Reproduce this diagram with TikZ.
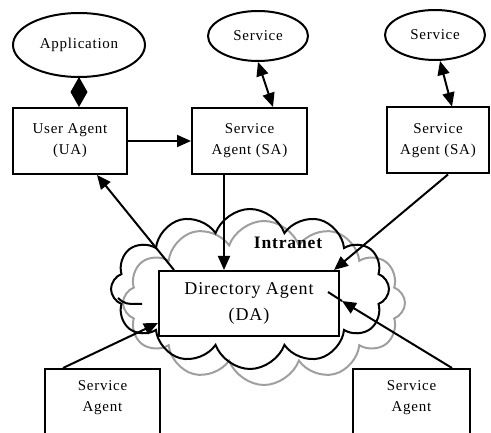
\documentclass[tikz,border=0pt]{standalone}
\usepackage{fontspec}
\setmainfont{Liberation Serif}[LetterSpace=5]
\usetikzlibrary{arrows.meta,shapes.geometric,shapes.symbols}
\begin{document}
\begin{tikzpicture}[x=1pt,y=-1pt,
  lw/.style={line width=2pt},
  box/.style={draw, lw, fill=white, rectangle, align=center, inner sep=0pt,
    font=\fontsize{15}{21}\selectfont},
  bbox/.style={box, anchor=north, inner ysep=12pt, text depth=40pt},
  ell/.style={draw, lw, ellipse, fill=white, inner sep=0pt,
    font=\fontsize{15}{16}\selectfont},
  arr/.style={lw, -{Triangle[length=14pt,width=12pt]}},
  darr/.style={lw, {Triangle[length=14pt,width=12pt]}-{Triangle[length=14pt,width=12pt]}},
  dia/.style={lw, -{Diamond[length=30pt,width=17pt]}},
  cloudb/.style={cloud, draw, cloud puffs=12, cloud puff arc=140, inner sep=0pt},
  curl/.style={line width=2pt},
]
\useasboundingbox (0,0) rectangle (491,433);
% clouds
\node[cloudb, gray!75, line width=2pt, minimum width=282pt, minimum height=164pt] (cg) at (264,303) {};
\node[cloudb, black, line width=2pt, minimum width=278pt, minimum height=160pt] (cb) at (250,289) {};
\draw[curl] (118,298) .. controls (125,304) .. (142,304);
\node[font=\bfseries\fontsize{17.5}{20}\selectfont] (intra) at (288,243) {Intranet};
% nodes
\node[ell, minimum width=132pt, minimum height=64pt] (app) at (79,45) {Application};
\node[ell, minimum width=100pt, minimum height=50pt] (svc1) at (258,36) {Service};
\node[ell, minimum width=100pt, minimum height=50pt] (svc2) at (435,35) {Service};
\node[box, minimum width=114pt, minimum height=66pt] (ua) at (70,141) {User Agent\\(UA)};
\node[box, minimum width=115pt, minimum height=66pt] (sa1) at (249.5,141) {Service\\Agent (SA)};
\node[box, minimum width=102pt, minimum height=66pt] (sa2) at (438,140.5) {Service\\Agent (SA)};
\node[box, minimum width=180pt, minimum height=65pt, font=\fontsize{18}{26}\selectfont] (da) at (249,303.5) {Directory Agent\\(DA)};
\node[bbox, minimum width=115pt] (sa3) at (102.5,368) {Service\\Agent};
\node[bbox, minimum width=117pt] (sa4) at (411.5,368) {Service\\Agent};
\coordinate (datip) at (342,301);
\coordinate (dain) at (328,292);
% connectors
\draw[dia] (app.south) -- (app.south |- ua.north);
\draw[darr] (svc1.south) -- ([xshift=23.5pt]sa1.north);
\draw[darr] ([xshift=5pt]svc2.south) -- ([xshift=14pt]sa2.north);
\draw[arr] (ua.east) -- (sa1.west);
\draw[arr] ([xshift=-25.5pt]sa1.south) -- ([xshift=-25pt]da.north);
\draw[arr] ([xshift=16pt]da.north west) -- ([xshift=27pt]ua.south);
\draw[arr] ([xshift=10pt]sa2.south) -- ([xshift=-6pt]da.north east);
\draw[arr] ([xshift=-39.5pt]sa3.north) -- ([yshift=14pt]da.south west);
\draw[arr] ([xshift=40.5pt]sa4.north) -- (datip);
\draw[lw] (datip) -- (dain);
\end{tikzpicture}
\end{document}
